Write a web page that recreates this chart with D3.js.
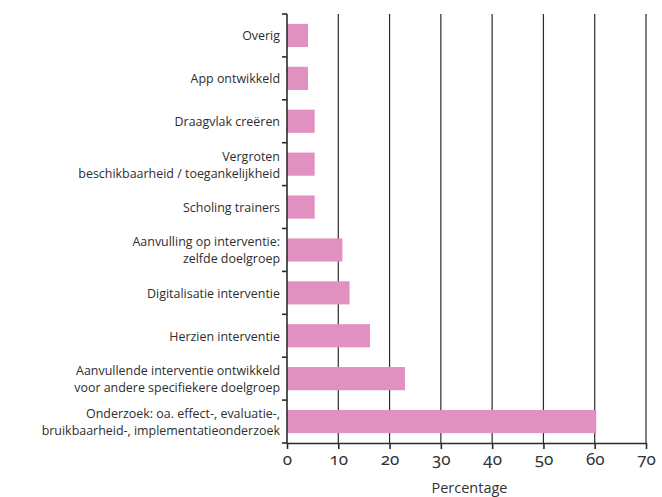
<!DOCTYPE html>
<html>
<head>
<meta charset="utf-8">
<script src="https://cdn.jsdelivr.net/npm/d3@7"></script>
<style>
  html, body { margin: 0; padding: 0; background: #fff; }
  svg { display: block; font-family: "Open Sans", "Noto Sans", sans-serif; }
  .num { font-feature-settings: "onum" 1; font-variant-numeric: oldstyle-nums; }
</style>
</head>
<body>
<svg id="chart" width="662" height="497"></svg>
<script>
const categories = [
  ["Overig"],
  ["App ontwikkeld"],
  ["Draagvlak creëren"],
  ["Vergroten", "beschikbaarheid / toegankelijkheid"],
  ["Scholing trainers"],
  ["Aanvulling op interventie:", "zelfde doelgroep"],
  ["Digitalisatie interventie"],
  ["Herzien interventie"],
  ["Aanvullende interventie ontwikkeld", "voor andere specifiekere doelgroep"],
  ["Onderzoek: oa. effect-, evaluatie-,", "bruikbaarheid-, implementatieonderzoek"]
];
const values = [4.1, 4.1, 5.4, 5.4, 5.4, 10.8, 12.2, 16.2, 23.0, 60.3];
const xTicks = [0, 10, 20, 30, 40, 50, 60, 70];
const xTitle = "Percentage";

const svg = d3.select("#chart");
const m = { left: 287, top: 14, right: 16, bottom: 54 };
const W = 662, H = 497;
const x0 = m.left, x1 = W - m.right, y0 = m.top, y1 = H - m.bottom;

const keys = categories.map((d, i) => i);
const x = d3.scaleLinear().domain([0, 70]).range([x0, x1]);
const y = d3.scaleBand().domain(keys).range([y0, y1]).paddingInner(0.46).paddingOuter(0.23);
const step = y.step();

const ink = "#2b2b2b";

// gridlines
svg.append("g").selectAll("line").data(xTicks.filter(t => t > 0)).join("line")
  .attr("x1", d => x(d)).attr("x2", d => x(d))
  .attr("y1", y0).attr("y2", y1)
  .attr("stroke", ink).attr("stroke-width", 1.2);

// bars
svg.append("g").selectAll("rect").data(values).join("rect")
  .attr("x", x(0))
  .attr("y", (d, i) => y(i))
  .attr("width", d => x(d) - x(0))
  .attr("height", y.bandwidth())
  .attr("fill", "#e191bf");

// x axis
const xAxis = svg.append("g").attr("transform", `translate(0,${y1})`)
  .call(d3.axisBottom(x).tickValues(xTicks).tickSize(6).tickPadding(4).tickSizeOuter(0));
xAxis.select(".domain").attr("stroke", ink).attr("stroke-width", 1.6);
xAxis.selectAll(".tick line").attr("stroke", ink).attr("stroke-width", 1.6);
xAxis.selectAll(".tick text").attr("class", "num").attr("fill", "#333")
  .style("font-size", "17px").style("font-family", "'Noto Sans', 'Open Sans', sans-serif");

// y axis line and band boundary ticks
svg.append("line").attr("x1", x0).attr("x2", x0).attr("y1", y0).attr("y2", y1)
  .attr("stroke", ink).attr("stroke-width", 1.6);
const bounds = keys.map(k => y(k) - y.paddingInner() * step / 2).concat([y1]);
svg.append("g").selectAll("line").data(bounds).join("line")
  .attr("x1", x0 - 5).attr("x2", x0).attr("y1", d => d).attr("y2", d => d)
  .attr("stroke", ink).attr("stroke-width", 1.6);

// category labels
const lh = 17;
const lab = svg.append("g").selectAll("text").data(categories).join("text")
  .attr("x", x0 - 7)
  .attr("y", (d, i) => y(i) + y.bandwidth() / 2)
  .attr("text-anchor", "end")
  .attr("fill", "#2e2e2e")
  .style("font-size", "12.45px");
lab.each(function(d) {
  const t = d3.select(this);
  const n = d.length;
  d.forEach((line, j) => {
    t.append("tspan").attr("x", x0 - 7)
      .attr("dy", j === 0 ? (-(n - 1) * lh / 2 + 5) : lh)
      .text(line);
  });
});

// x title
svg.append("text").attr("x", (x0 + x1) / 2 + 3).attr("y", 493)
  .attr("text-anchor", "middle").attr("fill", "#333")
  .style("font-size", "14.5px").text(xTitle);
</script>
</body>
</html>
